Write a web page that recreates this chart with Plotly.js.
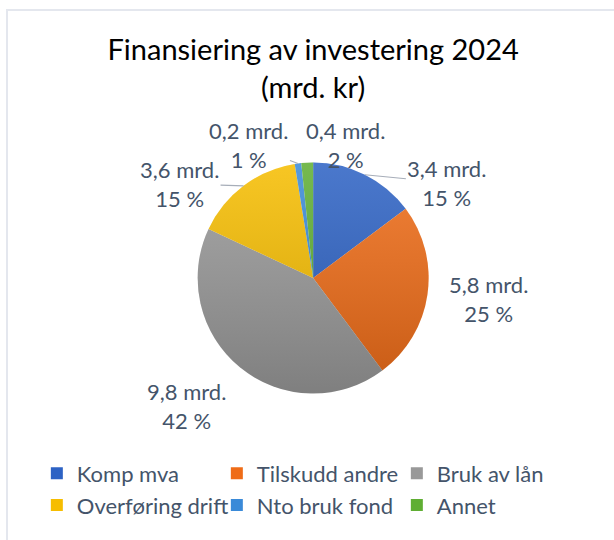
<!DOCTYPE html>
<html>
<head>
<meta charset="utf-8">
<script src="https://cdn.plot.ly/plotly-3.0.1.min.js"></script>
<style>
  body { margin: 0; background: #fff; }
  #wrap { position: relative; width: 614px; height: 540px; }
  #frame { position: absolute; left: 6px; top: 9px; right: 0; bottom: 0;
           border-left: 2px solid #e4e7ee; border-top: 2px solid #e4e7ee; pointer-events: none; }
  #chart { width: 614px; height: 540px; }
</style>
</head>
<body>
<div id="wrap">
  <div id="chart"></div>
  <div id="frame"></div>
</div>
<script>
// Finansiering av investering 2024, mrd. kr
const categories = ['Komp mva', 'Tilskudd andre', 'Bruk av lån', 'Overføring drift', 'Nto bruk fond', 'Annet'];
const amounts = [3.42, 5.78, 9.76, 3.58, 0.21, 0.38];

const sliceColors = ['#2d62c4', '#ef6c17', '#999999', '#f6bd00', '#3a8ad8', '#5fae33'];
// where each data label sits relative to its slice (px), Excel-like placement
const labelOffsets = [[82, 8], [61, 5], [-54, 38], [-64, -2], [-49, -18], [38, -18]];
const leaderLine = [true, false, false, true, true, false];

const W = 614, H = 540;
const TEXT_COLOR = '#44546a';
const FONT = 'Lato, sans-serif';
const pieDomain = {x: [0.02, 1], y: [0.2713, 0.6991]};

// pie geometry in pixels (margins are zero, so paper == figure)
const cx = W * (pieDomain.x[0] + pieDomain.x[1]) / 2;
const cy = H * (1 - (pieDomain.y[0] + pieDomain.y[1]) / 2);
const radius = Math.min(W * (pieDomain.x[1] - pieDomain.x[0]), H * (pieDomain.y[1] - pieDomain.y[0])) / 2;

const total = amounts.reduce((a, b) => a + b, 0);

let cum = 0;
const annotations = amounts.map((v, i) => {
    const mid = (cum + v / 2) / total * 2 * Math.PI;
    cum += v;
    const px = cx + radius * Math.sin(mid);
    const py = cy - radius * Math.cos(mid);
    return {
        xref: 'paper', yref: 'paper',
        x: px / W, y: 1 - py / H,
        text: v.toFixed(1).replace('.', ',') + ' mrd.<br>' + Math.round(v / total * 100) + ' %',
        showarrow: true,
        arrowhead: 0,
        arrowwidth: 1.2,
        arrowcolor: leaderLine[i] ? '#a7aeb9' : 'rgba(0,0,0,0)',
        standoff: 0,
        ax: labelOffsets[i][0],
        ay: labelOffsets[i][1],
        align: 'center',
        font: {family: FONT, size: 22, color: TEXT_COLOR}
    };
});

const shadeSvg = "<svg xmlns='http://www.w3.org/2000/svg' viewBox='0 0 100 100'>" +
    "<defs><linearGradient id='g' x1='0' y1='0' x2='0' y2='1'>" +
    "<stop offset='0' stop-color='#ffffff' stop-opacity='0.14'/>" +
    "<stop offset='1' stop-color='#000000' stop-opacity='0.17'/>" +
    "</linearGradient></defs><circle cx='50' cy='50' r='50' fill='url(#g)'/></svg>";

const pieTrace = {
    type: 'pie',
    labels: categories,
    values: amounts,
    textinfo: 'none',
    sort: false,
    direction: 'clockwise',
    rotation: 0,
    marker: {
        colors: sliceColors,
        line: {color: '#ffffff', width: 0}
    },
    domain: pieDomain,
    hoverinfo: 'label+value+percent'
};

const layout = {
    width: W,
    height: H,
    margin: {l: 0, r: 0, t: 0, b: 0},
    paper_bgcolor: '#ffffff',
    separators: ', ',
    font: {family: FONT, color: TEXT_COLOR},
    title: {
        text: 'Finansiering av investering 2024<br>(mrd. kr)',
        font: {family: FONT, size: 29, color: '#000000'},
        x: 0.51,
        xanchor: 'center',
        yref: 'container',
        y: 0.889,
        yanchor: 'middle'
    },
    annotations: annotations,
    images: [{
        source: 'data:image/svg+xml;utf8,' + encodeURIComponent(shadeSvg),
        xref: 'paper', yref: 'paper',
        x: (cx - radius) / W, y: 1 - (cy - radius) / H,
        sizex: 2 * radius / W, sizey: 2 * radius / H,
        sizing: 'stretch',
        xanchor: 'left', yanchor: 'top',
        layer: 'above'
    }],
    showlegend: true,
    legend: {
        orientation: 'h',
        x: 0.06,
        xanchor: 'left',
        y: 0.162,
        yanchor: 'top',
        entrywidth: 135,
        entrywidthmode: 'pixels',
        traceorder: 'normal',
        font: {family: FONT, size: 22, color: TEXT_COLOR}
    }
};

Plotly.newPlot('chart', [pieTrace], layout, {displayModeBar: false, staticPlot: true});
</script>
</body>
</html>
